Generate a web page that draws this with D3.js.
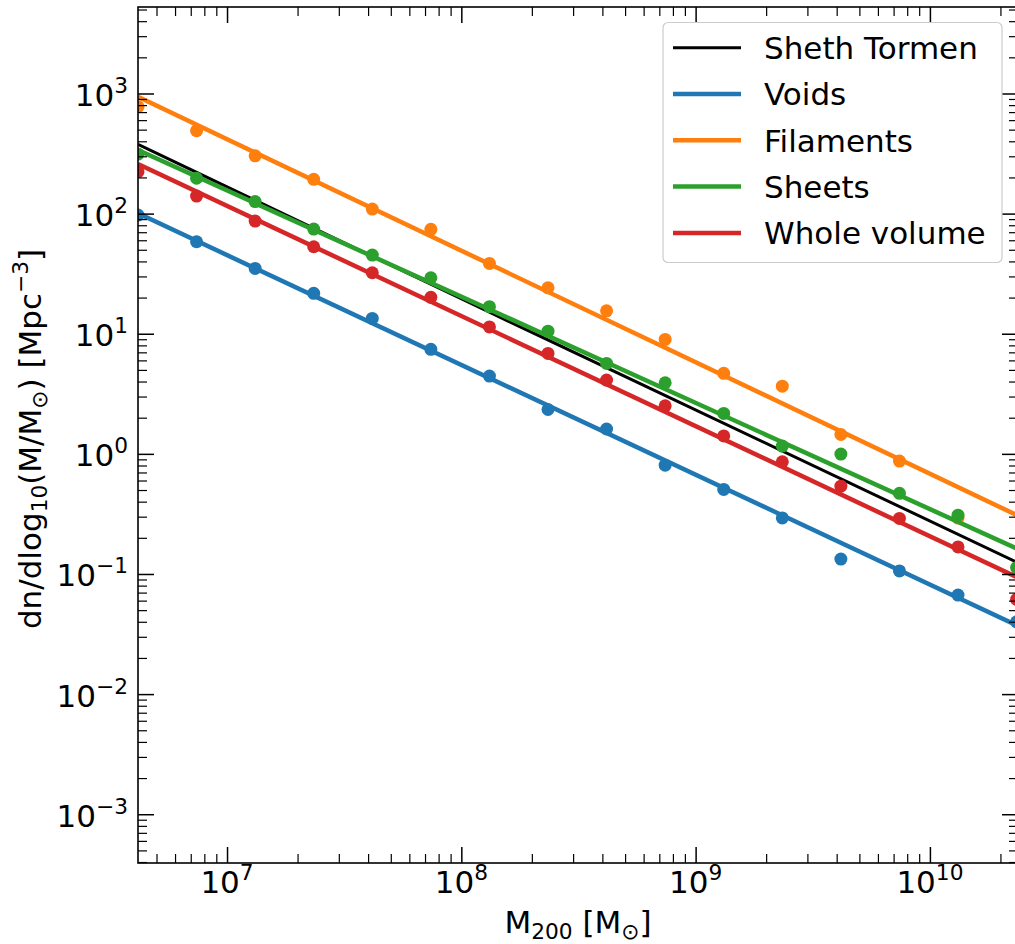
<!DOCTYPE html>
<html>
<head>
<meta charset="utf-8">
<script src="https://cdn.jsdelivr.net/npm/d3@7"></script>
<style>
  body { margin: 0; background: #fff; }
  text { font-family: "DejaVu Sans", sans-serif; fill: #000; }
</style>
</head>
<body>
<svg id="chart" width="1015" height="944"></svg>
<script>
// halo mass bins (log10 M200)
var logMass = [6.62, 6.87, 7.12, 7.37, 7.62, 7.87, 8.12, 8.37, 8.62, 8.87, 9.12, 9.37, 9.62, 9.87, 10.12, 10.37];

// measured mass functions, dn/dlog10 M [Mpc^-3]
var voids     = [97.3, 58.3, 35.0, 21.7, 13.4, 7.41, 4.44, 2.34, 1.61, 0.805, 0.506, 0.293, 0.133, 0.106, 0.0667, 0.0399];
var filaments = [776, 490, 303, 193, 109, 74, 38.5, 24.1, 15.5, 8.97, 4.68, 3.66, 1.45, 0.871, 0.292, null];
var sheets    = [313, 197, 126, 74.4, 45.2, 29.2, 16.8, 10.5, 5.66, 3.91, 2.17, 1.16, 0.995, 0.469, 0.309, 0.113];
var whole     = [223, 140, 86.7, 53.0, 32.2, 20.1, 11.4, 6.86, 4.11, 2.51, 1.41, 0.859, 0.538, 0.290, 0.168, 0.0614];

// fitted lines, read at the ends of the mass range
var fitLogMass    = [6.62, 10.38];
var voidsFit      = [100.5, 0.0367];
var filamentsFit  = [940, 0.303];
var sheetsFit     = [338, 0.160];
var wholeFit      = [259, 0.0923];

// Sheth Tormen prediction
var stLogMass = [6.62, 8.12, 10.38];
var stValues  = [377, 15.1, 0.123];

var xTickExps = [7, 8, 9, 10];
var yTickExps = [-3, -2, -1, 0, 1, 2, 3];

var series = [
  { name: 'Voids', color: '#1f77b4', values: voids, fit: voidsFit },
  { name: 'Filaments', color: '#ff7f0e', values: filaments, fit: filamentsFit },
  { name: 'Sheets', color: '#2ca02c', values: sheets, fit: sheetsFit },
  { name: 'Whole volume', color: '#d62728', values: whole, fit: wholeFit }
];

// plot box (window.top is reserved, so use p* names)
var pLeft = 138, pRight = 1018, pTop = 7, pBottom = 863;
var fontSize = 31;

var x = d3.scaleLog().domain([Math.pow(10, 6.62), Math.pow(10, 10.376)]).range([pLeft, pRight]);
var y = d3.scaleLog().domain([Math.pow(10, -3.406), Math.pow(10, 3.72)]).range([pBottom, pTop]);

var svg = d3.select('#chart');

svg.append('defs').append('clipPath').attr('id', 'clip')
  .append('rect')
  .attr('x', pLeft).attr('y', pTop)
  .attr('width', pRight - pLeft).attr('height', pBottom - pTop);

var plot = svg.append('g').attr('clip-path', 'url(#clip)');

var line = d3.line()
  .x(function(d) { return x(Math.pow(10, d[0])); })
  .y(function(d) { return y(d[1]); });

plot.append('path')
  .datum(d3.zip(stLogMass, stValues))
  .attr('d', line)
  .attr('fill', 'none')
  .attr('stroke', '#000')
  .attr('stroke-width', 3);

series.forEach(function(s) {
  plot.append('path')
    .datum(d3.zip(fitLogMass, s.fit))
    .attr('d', line)
    .attr('fill', 'none')
    .attr('stroke', s.color)
    .attr('stroke-width', 4.5);

  plot.selectAll(null)
    .data(d3.zip(logMass, s.values).filter(function(d) { return d[1] != null; }))
    .enter()
    .append('circle')
    .attr('cx', function(d) { return x(Math.pow(10, d[0])); })
    .attr('cy', function(d) { return y(d[1]); })
    .attr('r', 6.5)
    .attr('fill', s.color);
});

// ticks, all pointing inward
function isDecade(v) {
  var l = Math.log10(v);
  return Math.abs(l - Math.round(l)) < 1e-6;
}
var xMajor = xTickExps.map(function(e) { return Math.pow(10, e); });
var yMajor = yTickExps.map(function(e) { return Math.pow(10, e); });
var xMinor = x.ticks().filter(function(v) { return !isDecade(v); });
var yMinor = y.ticks().filter(function(v) { return !isDecade(v); });

function ticks(axisFn, scale, values, size, transform, width) {
  var g = svg.append('g')
    .attr('transform', transform)
    .call(axisFn(scale).tickValues(values).tickSize(-size).tickSizeOuter(0).tickFormat(''));
  g.select('.domain').remove();
  g.selectAll('line').attr('stroke', '#000').attr('stroke-width', width);
}

[[xMajor, 16, 1.5], [xMinor, 9, 1.2]].forEach(function(t) {
  ticks(d3.axisBottom, x, t[0], t[1], 'translate(0,' + pBottom + ')', t[2]);
  ticks(d3.axisTop, x, t[0], t[1], 'translate(0,' + pTop + ')', t[2]);
});
[[yMajor, 16, 1.5], [yMinor, 9, 1.2]].forEach(function(t) {
  ticks(d3.axisLeft, y, t[0], t[1], 'translate(' + pLeft + ',0)', t[2]);
  ticks(d3.axisRight, y, t[0], t[1], 'translate(' + pRight + ',0)', t[2]);
});

// tick labels as 10^n
function powerLabel(sel, e) {
  sel.append('tspan').text('10');
  sel.append('tspan')
    .attr('dy', -13)
    .attr('font-size', fontSize * 0.7)
    .text(e < 0 ? '\u2212' + (-e) : String(e));
}

xTickExps.forEach(function(e) {
  svg.append('text')
    .attr('x', x(Math.pow(10, e)))
    .attr('y', 893)
    .attr('text-anchor', 'middle')
    .attr('font-size', fontSize)
    .call(powerLabel, e);
});

yTickExps.forEach(function(e) {
  svg.append('text')
    .attr('x', 128)
    .attr('y', y(Math.pow(10, e)) + 12.5)
    .attr('text-anchor', 'end')
    .attr('font-size', fontSize)
    .call(powerLabel, e);
});

// axis labels
var xl = svg.append('text')
  .attr('x', (pLeft + pRight) / 2)
  .attr('y', 933)
  .attr('text-anchor', 'middle')
  .attr('font-size', fontSize);
xl.append('tspan').text('M');
xl.append('tspan').attr('dy', 6).attr('font-size', fontSize * 0.7).text('200');
xl.append('tspan').attr('dy', -6).text(' [M');
xl.append('tspan').attr('dy', 6).attr('font-size', fontSize * 0.7).text('\u2299');
xl.append('tspan').attr('dy', -6).text(']');

var yl = svg.append('text')
  .attr('transform', 'translate(41,439) rotate(-90)')
  .attr('text-anchor', 'middle')
  .attr('font-size', fontSize);
yl.append('tspan').text('dn/dlog');
yl.append('tspan').attr('dy', 6).attr('font-size', fontSize * 0.7).text('10');
yl.append('tspan').attr('dy', -6).text('(M/M');
yl.append('tspan').attr('dy', 6).attr('font-size', fontSize * 0.7).text('\u2299');
yl.append('tspan').attr('dy', -6).text(') [Mpc');
yl.append('tspan').attr('dy', -13).attr('font-size', fontSize * 0.7).text('\u22123');
yl.append('tspan').attr('dy', 13).text(']');

// frame
svg.append('rect')
  .attr('x', pLeft).attr('y', pTop)
  .attr('width', pRight - pLeft).attr('height', pBottom - pTop)
  .attr('fill', 'none')
  .attr('stroke', '#000')
  .attr('stroke-width', 1.6);

// legend
var legendItems = [{ name: 'Sheth Tormen', color: '#000', width: 3 }].concat(
  series.map(function(s) { return { name: s.name, color: s.color, width: 4.5 }; }));

var legend = svg.append('g');
legend.append('rect')
  .attr('x', 663).attr('y', 22.5)
  .attr('width', 339).attr('height', 240)
  .attr('rx', 5)
  .attr('fill', '#fff').attr('fill-opacity', 0.8)
  .attr('stroke', '#cccccc').attr('stroke-width', 1.2);

legendItems.forEach(function(d, i) {
  var cy = 47.7 + 46.3 * i;
  legend.append('line')
    .attr('x1', 673).attr('x2', 741)
    .attr('y1', cy).attr('y2', cy)
    .attr('stroke', d.color)
    .attr('stroke-width', d.width);
  legend.append('text')
    .attr('x', 764)
    .attr('y', cy + 11.3)
    .attr('font-size', fontSize)
    .text(d.name);
});
</script>
</body>
</html>
